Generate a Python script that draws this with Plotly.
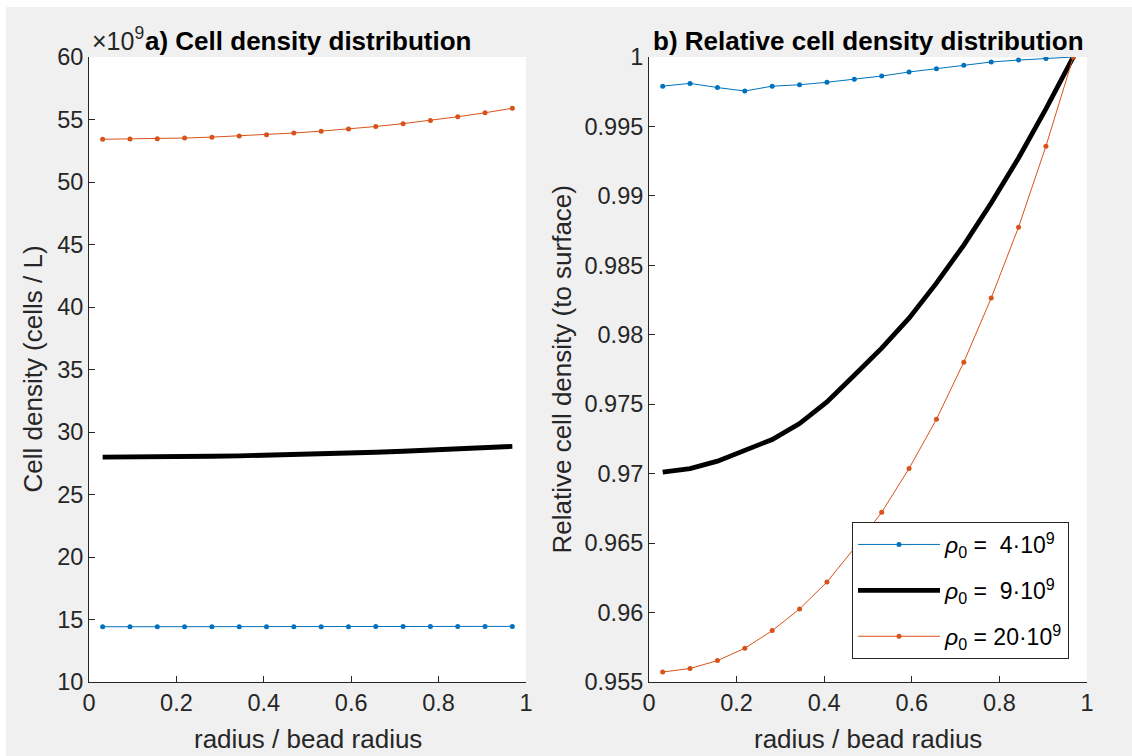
import plotly.graph_objects as go

# Normalised radial position (radius / bead radius) of each shell
radius = [0.03125, 0.09375, 0.15625, 0.21875, 0.28125, 0.34375, 0.40625, 0.46875,
          0.53125, 0.59375, 0.65625, 0.71875, 0.78125, 0.84375, 0.90625, 0.96875]

# Cell density in units of 1e9 cells / L
dens_4 = [14.42, 14.42, 14.42, 14.42, 14.42, 14.42, 14.43, 14.43,
          14.43, 14.43, 14.44, 14.44, 14.44, 14.45, 14.45, 14.45]
dens_9 = [27.99, 27.99, 28.01, 28.03, 28.06, 28.09, 28.13, 28.19,
          28.25, 28.31, 28.38, 28.46, 28.55, 28.64, 28.74, 28.85]
dens_20 = [53.42, 53.44, 53.47, 53.52, 53.59, 53.68, 53.79, 53.92,
           54.07, 54.24, 54.44, 54.67, 54.93, 55.22, 55.54, 55.90]

# Cell density relative to the value at the bead surface
rel_4 = [0.9979, 0.9981, 0.9978, 0.99755, 0.9979, 0.9980, 0.99818, 0.9984,
         0.99863, 0.99892, 0.99916, 0.9994, 0.99964, 0.99978, 0.9999, 1.0]
rel_9 = [0.97011, 0.97037, 0.9709, 0.97169, 0.97246, 0.97361, 0.97517, 0.97709,
         0.97904, 0.9812, 0.98372, 0.98646, 0.98949, 0.99273, 0.99626, 1.0]
rel_20 = [0.95572, 0.95597, 0.95654, 0.95743, 0.9587, 0.96026, 0.9622, 0.96463,
          0.96722, 0.97037, 0.97392, 0.97803, 0.98264, 0.98775, 0.99358, 1.0]

series_names = ["<i>ρ</i><sub>0</sub> = \u00a04·10<sup>9</sup>",
                "<i>ρ</i><sub>0</sub> = \u00a09·10<sup>9</sup>",
                "<i>ρ</i><sub>0</sub> = 20·10<sup>9</sup>"]

x_ticks = [0, 0.2, 0.4, 0.6, 0.8, 1]
x_ticktext = ["0", "0.2", "0.4", "0.6", "0.8", "1"]
y1_ticks = [10, 15, 20, 25, 30, 35, 40, 45, 50, 55, 60]
y2_ticks = [0.955, 0.96, 0.965, 0.97, 0.975, 0.98, 0.985, 0.99, 0.995, 1]
y2_ticktext = ["0.955", "0.96", "0.965", "0.97", "0.975", "0.98", "0.985", "0.99", "0.995", "1"]

BLUE = "#0072BD"
ORANGE = "#D95319"
INK = "#262626"
FONT = "Liberation Sans, Arial, Helvetica, sans-serif"

W, H = 1132, 756
ML, MR, MT, MB = 89, 45, 57, 74
PW, PH = W - ML - MR, H - MT - MB


def px_x(px):
    return (px - ML) / PW


def px_y(py):
    return (H - MB - py) / PH


fig = go.Figure()

styles = [
    dict(mode="lines+markers", line=dict(color=BLUE, width=1), marker=dict(size=5, color=BLUE)),
    dict(mode="lines", line=dict(color="black", width=4.8)),
    dict(mode="lines+markers", line=dict(color=ORANGE, width=1), marker=dict(size=5, color=ORANGE)),
]

for dens, st in zip([dens_4, dens_9, dens_20], styles):
    fig.add_trace(go.Scatter(x=radius, y=dens, xaxis="x", yaxis="y", showlegend=False, **st))

for i, (rel, st) in enumerate(zip([rel_4, rel_9, rel_20], styles)):
    fig.add_trace(go.Scatter(x=radius, y=rel, xaxis="x2", yaxis="y2", name=series_names[i],
                             legendgroup=f"g{i}", showlegend=True, **st))

axis_common = dict(
    showline=True, linecolor=INK, linewidth=1, mirror=False,
    ticks="inside", ticklen=6, tickwidth=1, tickcolor=INK,
    showgrid=False, zeroline=False,
    tickfont=dict(family=FONT, size=23.5, color=INK),
)

left_end = px_x(526)
right_start = px_x(649)

fig.update_layout(
    width=W, height=H,
    margin=dict(l=ML, r=MR, t=MT, b=MB, pad=0),
    paper_bgcolor="#F0F0F0",
    plot_bgcolor="white",
    font=dict(family=FONT, color=INK),
    xaxis=dict(domain=[0, left_end], range=[0, 1], tickvals=x_ticks, ticktext=x_ticktext,
               anchor="y", **axis_common),
    yaxis=dict(domain=[0, 1], range=[10, 60], tickvals=y1_ticks, anchor="x", **axis_common),
    xaxis2=dict(domain=[right_start, 1], range=[0, 1], tickvals=x_ticks, ticktext=x_ticktext,
                anchor="y2", **axis_common),
    yaxis2=dict(domain=[0, 1], range=[0.955, 1], tickvals=y2_ticks, ticktext=y2_ticktext,
                anchor="x2", **axis_common),
    legend=dict(
        x=px_x(852), y=px_y(522), xanchor="left", yanchor="top",
        bgcolor="white", bordercolor=INK, borderwidth=1,
        font=dict(family=FONT, size=23, color="black"),
        tracegroupgap=13, itemwidth=82,
    ),
    showlegend=True,
)

annotations = [
    dict(text="<b>a) Cell density distribution</b>", x=px_x(307.5), y=px_y(58),
         xanchor="center", yanchor="bottom", font=dict(size=26, color="black")),
    dict(text="<b>b) Relative cell density distribution</b>", x=px_x(868), y=px_y(58),
         xanchor="center", yanchor="bottom", font=dict(size=26, color="black")),
    dict(text="×10<sup>9</sup>", x=px_x(90), y=px_y(57), xanchor="left", yanchor="bottom",
         font=dict(size=25, color=INK)),
    dict(text="radius / bead radius", x=px_x(307.5), y=px_y(739),
         xanchor="center", yanchor="middle", font=dict(size=26, color=INK)),
    dict(text="radius / bead radius", x=px_x(868), y=px_y(739),
         xanchor="center", yanchor="middle", font=dict(size=26, color=INK)),
    dict(text="Cell density (cells / L)", x=px_x(32), y=px_y(369.5), textangle=-90,
         xanchor="center", yanchor="middle", font=dict(size=26, color=INK)),
    dict(text="Relative cell density (to surface)", x=px_x(561), y=px_y(369.5), textangle=-90,
         xanchor="center", yanchor="middle", font=dict(size=26, color=INK)),
]
for a in annotations:
    a.update(xref="paper", yref="paper", showarrow=False)
fig.update_layout(annotations=annotations)

# thin white frame on the top and left edges of the figure
fig.add_shape(type="rect", xref="paper", yref="paper", x0=px_x(-5), x1=px_x(6),
              y0=px_y(H + 5), y1=px_y(-5), fillcolor="white", line_width=0, layer="above")
fig.add_shape(type="rect", xref="paper", yref="paper", x0=px_x(-5), x1=px_x(W + 5),
              y0=px_y(7), y1=px_y(-5), fillcolor="white", line_width=0, layer="above")

fig.write_html("out.html")
